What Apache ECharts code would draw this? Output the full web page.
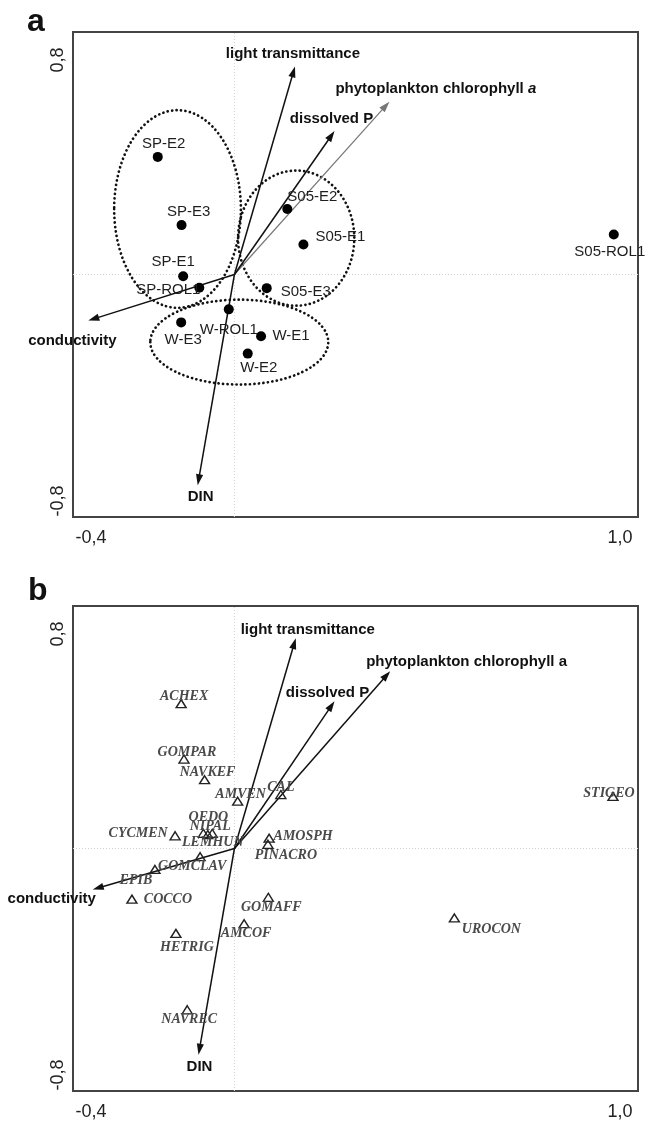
<!DOCTYPE html>
<html>
<head>
<meta charset="utf-8">
<script src="https://cdn.jsdelivr.net/npm/echarts@6/dist/echarts.min.js"></script>
<style>html,body{margin:0;padding:0;background:#fff}#c{width:645px;height:1121px}</style>
</head>
<body>
<div id="c"></div>
<script>
// ---------------- DATA ----------------
const xTicks = [-0.4, 1.0];
const yTicks = [-0.8, 0.8];

// Environmental variables (biplot arrows)
const envNames = ['light transmittance', 'phytoplankton chlorophyll a', 'dissolved P', 'conductivity', 'DIN'];
const envA_x = [0.150, 0.384, 0.248, -0.362, -0.091];
const envA_y = [0.686, 0.570, 0.473, -0.152, -0.695];
const envB_x = [0.152, 0.386, 0.248, -0.351, -0.089];
const envB_y = [0.694, 0.585, 0.486, -0.135, -0.680];

// Panel a: samples
const siteNames = ['SP-E2', 'SP-E3', 'SP-E1', 'SP-ROL1', 'S05-E2', 'S05-E1', 'S05-E3', 'S05-ROL1', 'W-ROL1', 'W-E3', 'W-E1', 'W-E2'];
const siteX = [-0.190, -0.131, -0.127, -0.087, 0.131, 0.171, 0.080, 0.940, -0.014, -0.132, 0.066, 0.033];
const siteY = [0.388, 0.163, -0.006, -0.044, 0.216, 0.099, -0.045, 0.132, -0.115, -0.158, -0.204, -0.261];

// Panel a: group envelopes (centre x, centre y, radius x, radius y)
const groupNames = ['SP', 'S05', 'W'];
const groupCx = [-0.141, 0.153, 0.012];
const groupCy = [0.216, 0.120, -0.223];
const groupRx = [0.157, 0.144, 0.2205];
const groupRy = [0.326, 0.223, 0.140];

// Panel b: species
const spNames = ['ACHEX', 'GOMPAR', 'NAVKEF', 'AMVEN', 'CAL', 'STIGEO', 'OEDO', 'NIPAL', 'LEMHUN', 'CYCMEN', 'AMOSPH', 'PINACRO', 'GOMCLAV', 'EPIB', 'COCCO', 'GOMAFF', 'UROCON', 'AMCOF', 'HETRIG', 'NAVREC'];
const spX = [-0.132, -0.125, -0.074, 0.008, 0.115, 0.938, -0.077, -0.055, -0.066, -0.147, 0.086, 0.083, -0.085, -0.197, -0.254, 0.084, 0.545, 0.024, -0.145, -0.117];
const spY = [0.478, 0.295, 0.227, 0.156, 0.178, 0.172, 0.050, 0.050, 0.046, 0.042, 0.034, 0.014, -0.027, -0.069, -0.167, -0.161, -0.229, -0.248, -0.280, -0.532];

// ---------------- STYLE ----------------
const SANS = '"Liberation Sans", Arial, sans-serif';
const SERIF = '"Liberation Serif", "Times New Roman", serif';

const siteLabelOffset = {
  'SP-E2': [6, -13], 'SP-E3': [7, -13], 'SP-E1': [-10, -14], 'SP-ROL1': [-31, 2],
  'S05-E2': [25, -12], 'S05-E1': [37, -8], 'S05-E3': [39, 4], 'S05-ROL1': [-4, 17],
  'W-ROL1': [0, 20], 'W-E3': [2, 17], 'W-E1': [30, 0], 'W-E2': [11, 14]
};
const spLabelOffset = {
  ACHEX: [3, -7], GOMPAR: [3, -7], NAVKEF: [3, -7], AMVEN: [3, -7], CAL: [0, -7],
  STIGEO: [-4, -3], OEDO: [5, -16], NIPAL: [-2, -7], LEMHUN: [5, 8], CYCMEN: [-37, -2],
  AMOSPH: [34, -2], PINACRO: [18, 11], GOMCLAV: [-8, 10], EPIB: [-19, 11], COCCO: [36, 0],
  GOMAFF: [3, 10], UROCON: [37, 11], AMCOF: [2, 10], HETRIG: [11, 14], NAVREC: [2, 10]
};
const envStyleA = {
  'light transmittance': { off: [-2, -13], align: 'center' },
  'phytoplankton chlorophyll a': { off: [-54, -13], align: 'left', color: '#777', width: 1.2, italicA: true },
  'dissolved P': { off: [-3, -12], align: 'center' },
  'conductivity': { off: [-16, 20], align: 'center' },
  'DIN': { off: [3, 12], align: 'center' }
};
const envStyleB = {
  'light transmittance': { off: [12, -8], align: 'center' },
  'phytoplankton chlorophyll a': { off: [-24, -9], align: 'left' },
  'dissolved P': { off: [-7, -8], align: 'center' },
  'conductivity': { off: [-41, 9], align: 'center' },
  'DIN': { off: [1, 12], align: 'center' }
};

function fmt(v) { return (Math.round(v * 10) / 10).toFixed(1).replace('.', ','); }
function near(a, b) { return Math.abs(a - b) < 1e-6; }
const tickFont = { fontSize: 18, color: '#222', fontFamily: SANS };

function xAxisFor(i) {
  return {
    type: 'value', gridIndex: i, min: xTicks[0], max: xTicks[xTicks.length - 1],
    axisLine: { show: false }, axisTick: { show: false }, splitLine: { show: false },
    axisLabel: {
      customValues: xTicks, margin: 12,
      formatter: v => near(v, xTicks[0]) ? '{lo|' + fmt(v) + '}' : '{hi|' + fmt(v) + '}',
      rich: { lo: Object.assign({ padding: [0, 0, 0, 36] }, tickFont), hi: Object.assign({ padding: [0, 36, 0, 0] }, tickFont) }
    }
  };
}
function yAxisFor(i) {
  return {
    type: 'value', gridIndex: i, min: yTicks[0], max: yTicks[yTicks.length - 1],
    axisLine: { show: false }, axisTick: { show: false }, splitLine: { show: false },
    axisLabel: {
      customValues: yTicks, margin: 6, rotate: 90,
      formatter: v => near(v, yTicks[0]) ? '{lo|' + fmt(v) + '}' : '{hi|' + fmt(v) + '}',
      rich: { lo: Object.assign({ padding: [0, 0, 0, 32] }, tickFont), hi: Object.assign({ padding: [0, 56, 0, 0] }, tickFont) }
    }
  };
}

function zeroSeries(idx) {
  return {
    type: 'custom', xAxisIndex: idx, yAxisIndex: idx, z: 1, silent: true,
    encode: { x: [0], y: [1] },
    data: [[0, 0]],
    renderItem: function (params, api) {
      const v0 = api.coord([0, yTicks[0]]), v1 = api.coord([0, yTicks[yTicks.length - 1]]);
      const h0 = api.coord([xTicks[0], 0]), h1 = api.coord([xTicks[xTicks.length - 1], 0]);
      const st = { stroke: '#d2d2d2', lineWidth: 1, lineDash: [1, 2] };
      return {
        type: 'group', children: [
          { type: 'line', shape: { x1: v0[0], y1: v0[1], x2: v1[0], y2: v1[1] }, style: st },
          { type: 'line', shape: { x1: h0[0], y1: h0[1], x2: h1[0], y2: h1[1] }, style: st }
        ]
      };
    }
  };
}

function arrowSeries(idx, xs, ys, styles) {
  return {
    type: 'custom', xAxisIndex: idx, yAxisIndex: idx, z: 3, silent: true,
    encode: { x: [0], y: [1] },
    data: xs.map((x, i) => [x, ys[i]]),
    renderItem: function (params, api) {
      const o = api.coord([0, 0]);
      const t = api.coord([api.value(0), api.value(1)]);
      const dx = t[0] - o[0], dy = t[1] - o[1];
      const L = Math.hypot(dx, dy), ux = dx / L, uy = dy / L;
      const hl = 11, hw = 3.6;
      const bx = t[0] - ux * hl, by = t[1] - uy * hl;
      const name = envNames[params.dataIndex];
      const st = styles[name];
      const col = st.color || '#111';
      let text = name, rich = {};
      if (st.italicA) {
        text = 'phytoplankton chlorophyll {i|a}';
        rich = { i: { fontStyle: 'italic', fontWeight: 'bold', fontSize: 15, fontFamily: SANS, fill: '#111' } };
      }
      return {
        type: 'group', children: [
          { type: 'line', shape: { x1: o[0], y1: o[1], x2: bx + ux * 2, y2: by + uy * 2 }, style: { stroke: col, lineWidth: st.width || 1.5 } },
          { type: 'polygon', shape: { points: [[t[0], t[1]], [bx - uy * hw, by + ux * hw], [bx + uy * hw, by - ux * hw]] }, style: { fill: col } },
          { type: 'text', x: t[0] + st.off[0], y: t[1] + st.off[1], z2: 10,
            style: { text: text, rich: rich, fontSize: 15, fontWeight: 'bold', fontFamily: SANS, fill: '#111', align: st.align, verticalAlign: 'middle' } }
        ]
      };
    }
  };
}

const option = {
  animation: false,
  backgroundColor: '#fff',
  grid: [
    { left: 73, top: 32, width: 565, height: 485, show: true, borderColor: '#444', borderWidth: 2 },
    { left: 73, top: 606, width: 565, height: 485, show: true, borderColor: '#444', borderWidth: 2 }
  ],
  xAxis: [xAxisFor(0), xAxisFor(1)],
  yAxis: [yAxisFor(0), yAxisFor(1)],
  graphic: [
    { type: 'text', x: 27, y: 22, style: { text: 'a', fontSize: 32, fontWeight: 'bold', fontFamily: SANS, fill: '#111', verticalAlign: 'middle' } },
    { type: 'text', x: 28, y: 591, style: { text: 'b', fontSize: 32, fontWeight: 'bold', fontFamily: SANS, fill: '#111', verticalAlign: 'middle' } }
  ],
  series: [
    zeroSeries(0),
    zeroSeries(1),
    {
      type: 'custom', xAxisIndex: 0, yAxisIndex: 0, z: 2, silent: true,
      encode: { x: [0], y: [1] },
      data: groupCx.map((c, i) => [c, groupCy[i], groupRx[i], groupRy[i]]),
      renderItem: function (params, api) {
        const c = api.coord([api.value(0), api.value(1)]);
        const s = api.size([api.value(2), api.value(3)]);
        const cx = c[0], cy = c[1], rx = s[0], ry = s[1];
        return {
          type: 'path',
          shape: { pathData: 'M' + (cx - rx) + ',' + cy + ' A' + rx + ',' + ry + ' 0 1 0 ' + (cx + rx) + ',' + cy + ' A' + rx + ',' + ry + ' 0 1 0 ' + (cx - rx) + ',' + cy + ' Z' },
          style: { fill: 'none', stroke: '#111', lineWidth: 2.7, lineDash: [0.1, 4.4], lineCap: 'round' }
        };
      }
    },
    arrowSeries(0, envA_x, envA_y, envStyleA),
    {
      type: 'scatter', xAxisIndex: 0, yAxisIndex: 0, z: 4, silent: true,
      symbol: 'circle', symbolSize: 10,
      itemStyle: { color: '#000', opacity: 1 },
      label: { show: true, position: 'inside', formatter: '{b}', fontSize: 15, fontFamily: SANS, color: '#1e1e1e', textBorderWidth: 0 },
      data: siteNames.map((n, i) => ({ name: n, value: [siteX[i], siteY[i]], label: { offset: siteLabelOffset[n] } }))
    },
    arrowSeries(1, envB_x, envB_y, envStyleB),
    {
      type: 'scatter', xAxisIndex: 1, yAxisIndex: 1, z: 4, silent: true,
      symbol: 'triangle', symbolSize: [10, 8],
      itemStyle: { color: 'rgba(255,255,255,0)', borderColor: '#222', borderWidth: 1.4, opacity: 1 },
      label: { show: true, position: 'inside', formatter: '{b}', fontSize: 14, fontStyle: 'italic', fontWeight: 'bold', fontFamily: SERIF, color: '#4a4a4a', textBorderWidth: 0 },
      data: spNames.map((n, i) => ({ name: n, value: [spX[i], spY[i]], label: { offset: spLabelOffset[n] } }))
    }
  ]
};

const chart = echarts.init(document.getElementById('c'));
chart.setOption(option);
</script>
</body>
</html>
